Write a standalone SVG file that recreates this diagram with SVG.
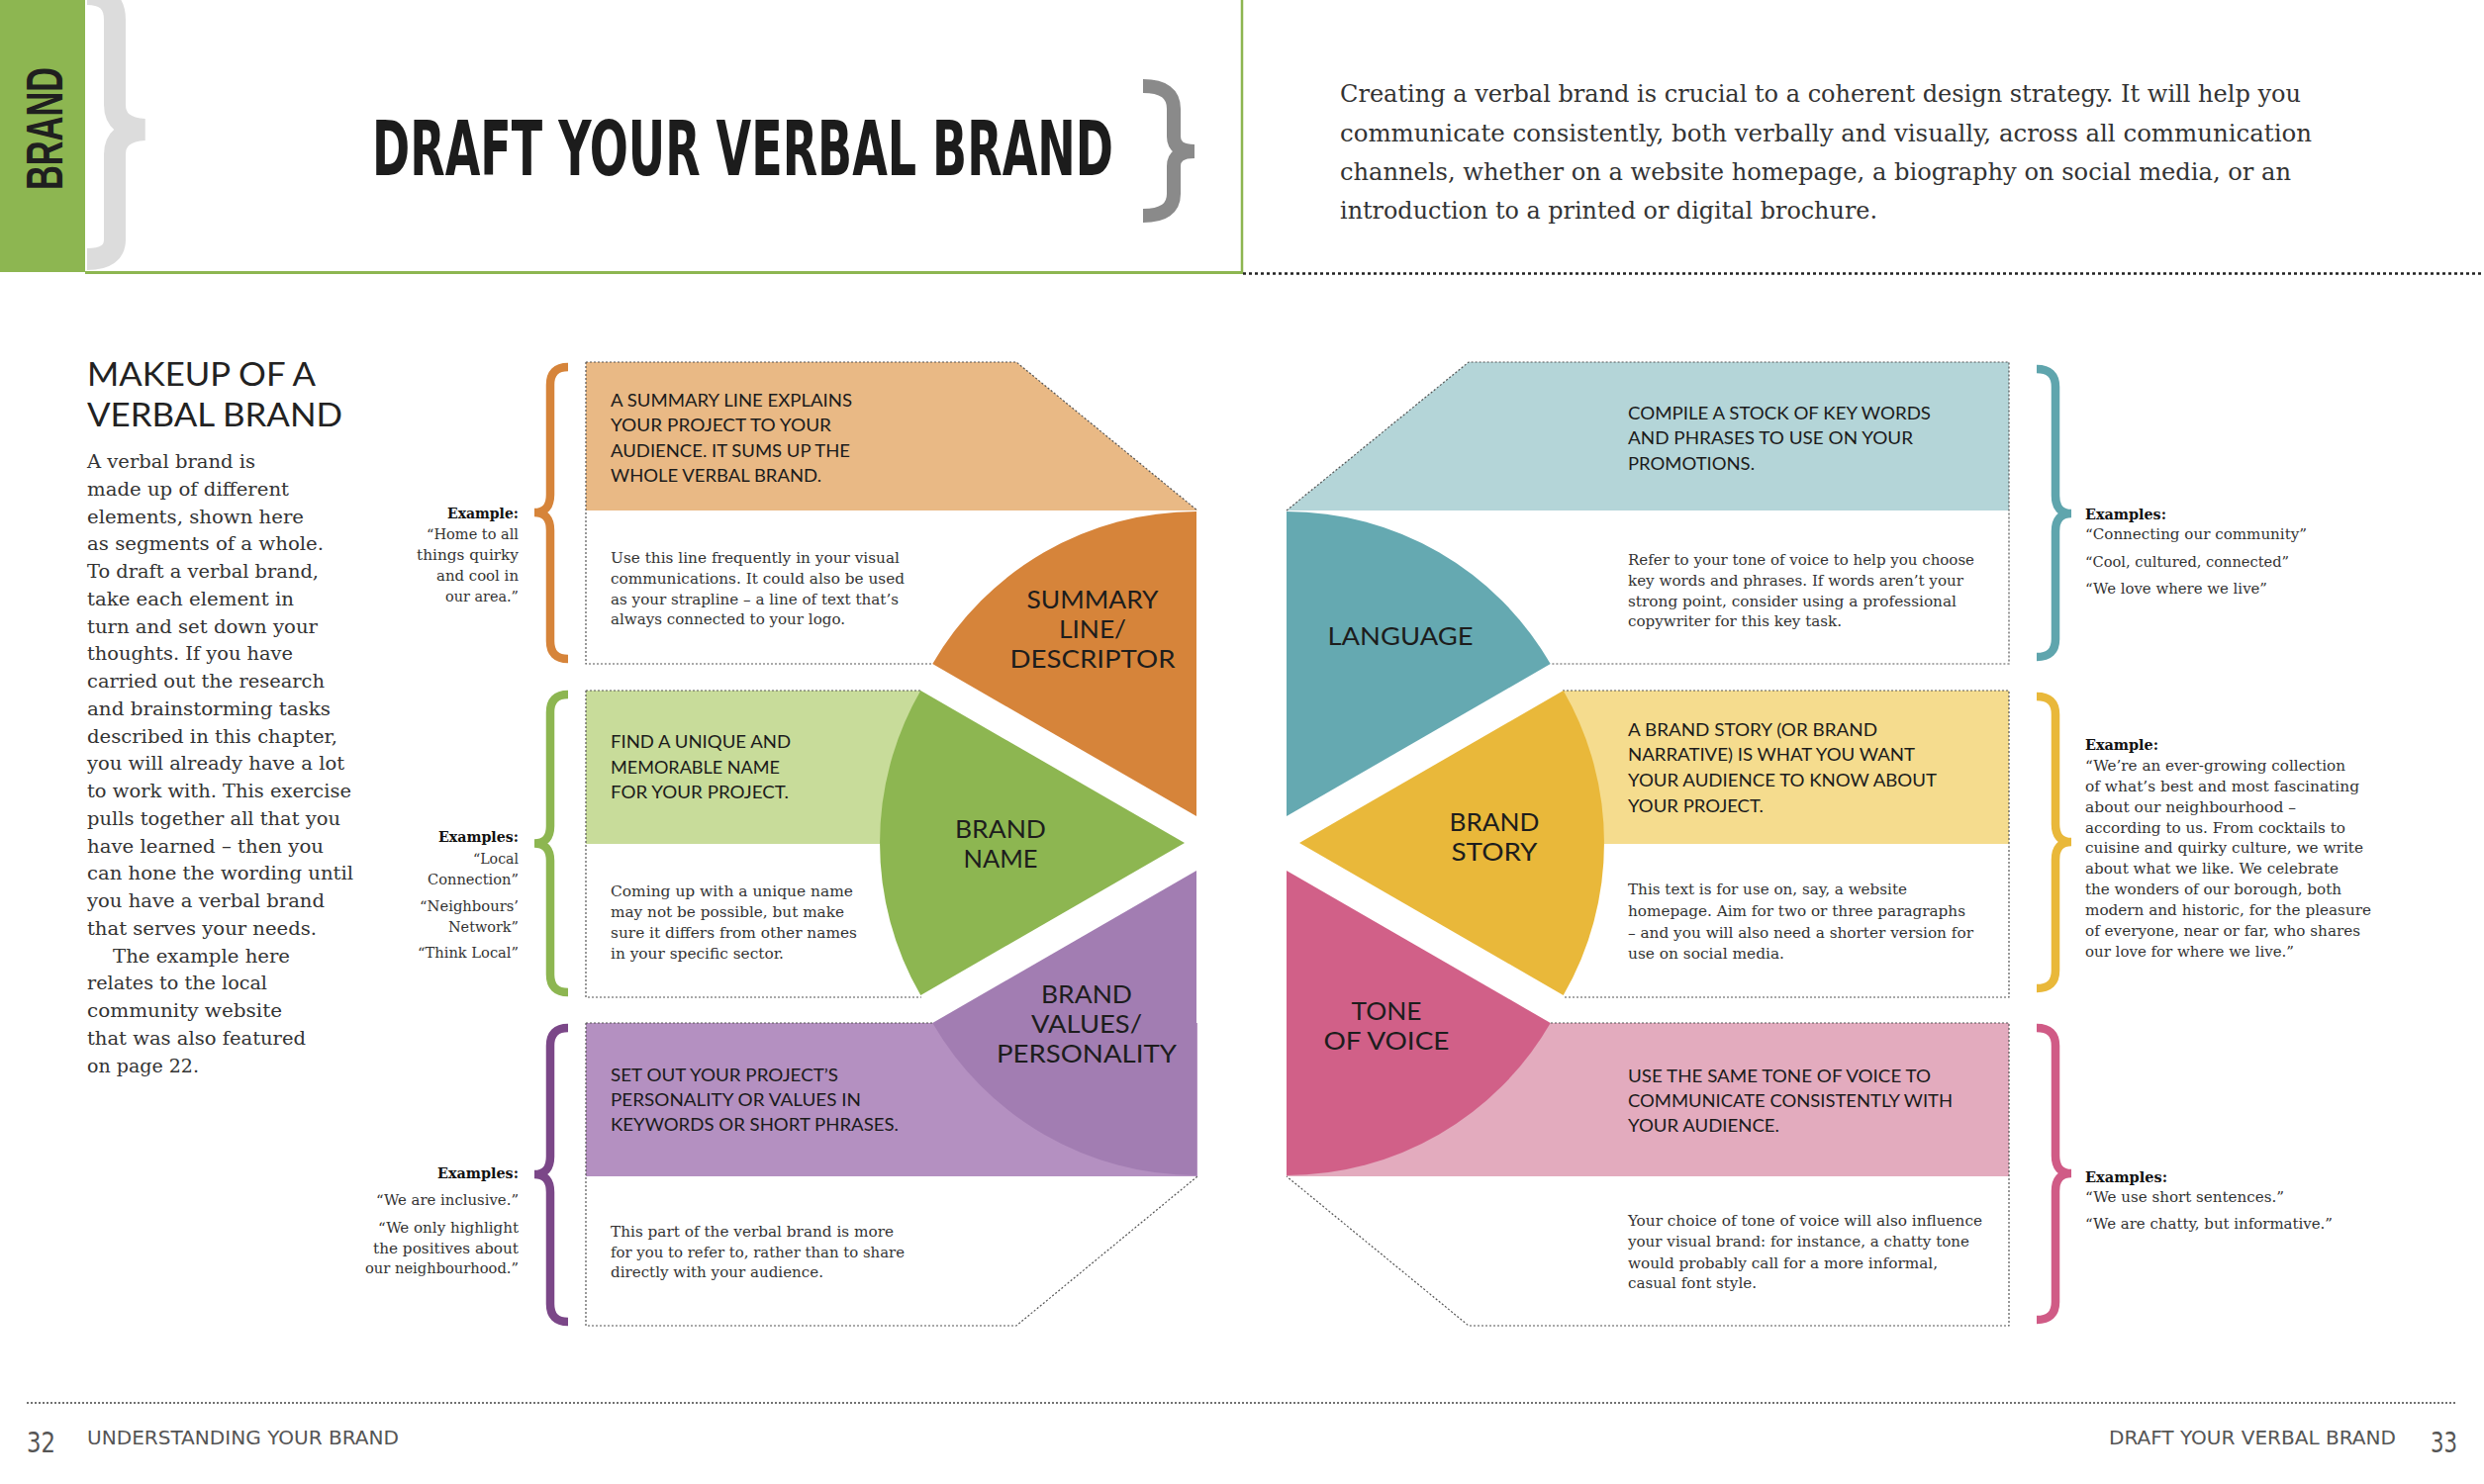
<svg xmlns="http://www.w3.org/2000/svg" width="2510" height="1500" viewBox="0 0 2510 1500">
<style>
.bg{fill:#fff}
.band{font-family:Lato,'Noto Sans',sans-serif;font-size:16.5px;fill:#1b1b1b}
.body{font-family:'DejaVu Serif Condensed','DejaVu Serif',serif;font-size:14.5px;fill:#333}
.lab{font-family:Lato,'Noto Sans',sans-serif;font-size:25.5px;fill:#1d1d1d;text-anchor:middle}
.ex{font-family:'DejaVu Serif Condensed','DejaVu Serif',serif;font-size:15px;fill:#333;text-anchor:end}
.rex{font-family:'DejaVu Serif','Liberation Serif',serif;font-size:14.5px;fill:#333}
.b{font-weight:bold;fill:#111}
.dot{fill:none;stroke:#555;stroke-width:1.2;stroke-dasharray:2 2}
.br{fill:none;stroke-width:8.5}
.intro{font-family:'DejaVu Serif Condensed','DejaVu Serif',serif;font-size:24px;fill:#333}
.para{font-family:'DejaVu Serif','Liberation Serif',serif;font-size:19px;fill:#333}
.foot{font-family:'DejaVu Sans Condensed','DejaVu Sans',sans-serif;fill:#555}
</style>
<rect class="bg" x="0" y="0" width="2510" height="1500"/>

<g id="header">
  <rect x="0" y="0" width="86" height="275" fill="#8db651"/>
  <text transform="translate(63,130) rotate(-90)" text-anchor="middle" font-family="'Liberation Sans',Arial,sans-serif" font-weight="bold" font-size="52" fill="#1f1f1f" textLength="124" lengthAdjust="spacingAndGlyphs">BRAND</text>
  <path d="M88,-6 Q116,-6 116,20 L116,106 Q116,129 146,131 Q116,133 116,156 L116,242 Q116,262 88,262" fill="none" stroke="#dcdcdc" stroke-width="22"/>
  <line x1="86" y1="275.5" x2="1256" y2="275.5" stroke="#8db651" stroke-width="3"/>
  <line x1="1255" y1="0" x2="1255" y2="276" stroke="#8db651" stroke-width="2.5"/>
  <text x="376" y="177" font-family="'DejaVu Sans Condensed','DejaVu Sans',sans-serif" font-weight="bold" font-size="76" fill="#1c1c1c" textLength="749" lengthAdjust="spacingAndGlyphs">DRAFT YOUR VERBAL BRAND</text>
  <path d="M1155,87 Q1186,87 1186,110 L1186,138 Q1186,153 1207,153 Q1186,153 1186,168 L1186,196 Q1186,218 1155,218" fill="none" stroke="#8a8a8a" stroke-width="14"/>
  <line x1="1256" y1="276.5" x2="2510" y2="276.5" stroke="#222" stroke-width="2.5" stroke-dasharray="3 3"/>
  <text class="intro" x="1354" y="103" textLength="971" lengthAdjust="spacingAndGlyphs">Creating a verbal brand is crucial to a coherent design strategy. It will help you</text>
  <text class="intro" x="1354" y="143" textLength="982" lengthAdjust="spacingAndGlyphs">communicate consistently, both verbally and visually, across all communication</text>
  <text class="intro" x="1354" y="182" textLength="961" lengthAdjust="spacingAndGlyphs">channels, whether on a website homepage, a biography on social media, or an</text>
  <text class="intro" x="1354" y="221" textLength="543" lengthAdjust="spacingAndGlyphs">introduction to a printed or digital brochure.</text>
</g>

<g id="intro-column">
  <text x="88" y="390" font-family="Lato,'Noto Sans',sans-serif" font-size="33" fill="#222" textLength="231" lengthAdjust="spacingAndGlyphs">MAKEUP OF A</text>
  <text x="88" y="431" font-family="Lato,'Noto Sans',sans-serif" font-size="33" fill="#222" textLength="258" lengthAdjust="spacingAndGlyphs">VERBAL BRAND</text>
  <text class="para" x="88" y="473" textLength="170" lengthAdjust="spacingAndGlyphs">A verbal brand is</text>
  <text class="para" x="88" y="500.75" textLength="204" lengthAdjust="spacingAndGlyphs">made up of different</text>
  <text class="para" x="88" y="528.5" textLength="219" lengthAdjust="spacingAndGlyphs">elements, shown here</text>
  <text class="para" x="88" y="556.25" textLength="239" lengthAdjust="spacingAndGlyphs">as segments of a whole.</text>
  <text class="para" x="88" y="584" textLength="234" lengthAdjust="spacingAndGlyphs">To draft a verbal brand,</text>
  <text class="para" x="88" y="611.75" textLength="209" lengthAdjust="spacingAndGlyphs">take each element in</text>
  <text class="para" x="88" y="639.5" textLength="233" lengthAdjust="spacingAndGlyphs">turn and set down your</text>
  <text class="para" x="88" y="667.25" textLength="208" lengthAdjust="spacingAndGlyphs">thoughts. If you have</text>
  <text class="para" x="88" y="695" textLength="240" lengthAdjust="spacingAndGlyphs">carried out the research</text>
  <text class="para" x="88" y="722.75" textLength="246" lengthAdjust="spacingAndGlyphs">and brainstorming tasks</text>
  <text class="para" x="88" y="750.5" textLength="253" lengthAdjust="spacingAndGlyphs">described in this chapter,</text>
  <text class="para" x="88" y="778.25" textLength="260" lengthAdjust="spacingAndGlyphs">you will already have a lot</text>
  <text class="para" x="88" y="806" textLength="267" lengthAdjust="spacingAndGlyphs">to work with. This exercise</text>
  <text class="para" x="88" y="833.75" textLength="256" lengthAdjust="spacingAndGlyphs">pulls together all that you</text>
  <text class="para" x="88" y="861.5" textLength="239" lengthAdjust="spacingAndGlyphs">have learned – then you</text>
  <text class="para" x="88" y="889.25" textLength="269" lengthAdjust="spacingAndGlyphs">can hone the wording until</text>
  <text class="para" x="88" y="917" textLength="240" lengthAdjust="spacingAndGlyphs">you have a verbal brand</text>
  <text class="para" x="88" y="944.75" textLength="232" lengthAdjust="spacingAndGlyphs">that serves your needs.</text>
  <text class="para" x="114" y="972.5" textLength="179" lengthAdjust="spacingAndGlyphs">The example here</text>
  <text class="para" x="88" y="1000.25" textLength="182" lengthAdjust="spacingAndGlyphs">relates to the local</text>
  <text class="para" x="88" y="1028" textLength="197" lengthAdjust="spacingAndGlyphs">community website</text>
  <text class="para" x="88" y="1055.75" textLength="221" lengthAdjust="spacingAndGlyphs">that was also featured</text>
  <text class="para" x="88" y="1083.5" textLength="113" lengthAdjust="spacingAndGlyphs">on page 22.</text>
</g>

<g id="summary-line">
  <polygon points="592,366 1027,366 1210,516 592,516" fill="#e9b985"/>
  <path d="M592,366 L1027,366 L1210,516 M592,366 L592,671 L943,671" class="dot"/>
  <path d="M1209,825 L1209,517 A308,308 0 0,0 942.3,671 Z" fill="#d6843a"/>
  <text class="lab" x="1104" y="615" textLength="133" lengthAdjust="spacingAndGlyphs">SUMMARY</text>
  <text class="lab" x="1104" y="645" textLength="68" lengthAdjust="spacingAndGlyphs">LINE/</text>
  <text class="lab" x="1104" y="675" textLength="167" lengthAdjust="spacingAndGlyphs">DESCRIPTOR</text>
  <text class="band" x="617" y="411" textLength="244" lengthAdjust="spacingAndGlyphs">A SUMMARY LINE EXPLAINS</text>
  <text class="band" x="617" y="436" textLength="223" lengthAdjust="spacingAndGlyphs">YOUR PROJECT TO YOUR</text>
  <text class="band" x="617" y="462" textLength="242" lengthAdjust="spacingAndGlyphs">AUDIENCE. IT SUMS UP THE</text>
  <text class="band" x="617" y="487" textLength="213" lengthAdjust="spacingAndGlyphs">WHOLE VERBAL BRAND.</text>
  <text class="body" x="617" y="569" textLength="292" lengthAdjust="spacingAndGlyphs">Use this line frequently in your visual</text>
  <text class="body" x="617" y="590" textLength="297" lengthAdjust="spacingAndGlyphs">communications. It could also be used</text>
  <text class="body" x="617" y="610.5" textLength="291" lengthAdjust="spacingAndGlyphs">as your strapline – a line of text that’s</text>
  <text class="body" x="617" y="631" textLength="237" lengthAdjust="spacingAndGlyphs">always connected to your logo.</text>
  <text class="ex b" x="524" y="524" font-size="16" textLength="72" lengthAdjust="spacingAndGlyphs">Example:</text>
  <text class="ex" x="524" y="545" textLength="93" lengthAdjust="spacingAndGlyphs">“Home to all</text>
  <text class="ex" x="524" y="566" textLength="103" lengthAdjust="spacingAndGlyphs">things quirky</text>
  <text class="ex" x="524" y="587" textLength="83" lengthAdjust="spacingAndGlyphs">and cool in</text>
  <text class="ex" x="524" y="608" textLength="74" lengthAdjust="spacingAndGlyphs">our area.”</text>
</g>

<g id="brand-name">
  <polygon points="592,698 931,698 889,853 592,853" fill="#c8dc9a"/>
  <path d="M592,698 L931,698 M592,698 L592,1008 L931,1008" class="dot"/>
  <path d="M1197,852 L930.3,698 A308,308 0 0,0 930.3,1006 Z" fill="#8db651"/>
  <text class="lab" x="1011" y="847" textLength="92" lengthAdjust="spacingAndGlyphs">BRAND</text>
  <text class="lab" x="1011" y="877" textLength="75" lengthAdjust="spacingAndGlyphs">NAME</text>
  <text class="band" x="617" y="756" textLength="182" lengthAdjust="spacingAndGlyphs">FIND A UNIQUE AND</text>
  <text class="band" x="617" y="782" textLength="171" lengthAdjust="spacingAndGlyphs">MEMORABLE NAME</text>
  <text class="band" x="617" y="807" textLength="180" lengthAdjust="spacingAndGlyphs">FOR YOUR PROJECT.</text>
  <text class="body" x="617" y="906" textLength="245" lengthAdjust="spacingAndGlyphs">Coming up with a unique name</text>
  <text class="body" x="617" y="927" textLength="236" lengthAdjust="spacingAndGlyphs">may not be possible, but make</text>
  <text class="body" x="617" y="948" textLength="249" lengthAdjust="spacingAndGlyphs">sure it differs from other names</text>
  <text class="body" x="617" y="969" textLength="175" lengthAdjust="spacingAndGlyphs">in your specific sector.</text>
  <text class="ex b" x="524" y="851" font-size="16" textLength="81" lengthAdjust="spacingAndGlyphs">Examples:</text>
  <text class="ex" x="524" y="873" textLength="46" lengthAdjust="spacingAndGlyphs">“Local</text>
  <text class="ex" x="524" y="894" textLength="92" lengthAdjust="spacingAndGlyphs">Connection”</text>
  <text class="ex" x="524" y="921" textLength="100" lengthAdjust="spacingAndGlyphs">“Neighbours’</text>
  <text class="ex" x="524" y="942" textLength="71" lengthAdjust="spacingAndGlyphs">Network”</text>
  <text class="ex" x="524" y="968" textLength="102" lengthAdjust="spacingAndGlyphs">“Think Local”</text>
</g>

<g id="brand-values">
  <rect x="592" y="1034" width="618" height="155" fill="#b490c1"/>
  <path d="M592,1034 L943,1034 M592,1034 L592,1340 L1027,1340 L1210,1189" class="dot"/>
  <path d="M1209,880 L942.3,1034 A308,308 0 0,0 1209,1188 Z" fill="#a27db2"/>
  <text class="lab" x="1098" y="1014" textLength="92" lengthAdjust="spacingAndGlyphs">BRAND</text>
  <text class="lab" x="1098" y="1044" textLength="112" lengthAdjust="spacingAndGlyphs">VALUES/</text>
  <text class="lab" x="1098" y="1074" textLength="182" lengthAdjust="spacingAndGlyphs">PERSONALITY</text>
  <text class="band" x="617" y="1093" textLength="230" lengthAdjust="spacingAndGlyphs">SET OUT YOUR PROJECT’S</text>
  <text class="band" x="617" y="1118" textLength="253" lengthAdjust="spacingAndGlyphs">PERSONALITY OR VALUES IN</text>
  <text class="band" x="617" y="1143" textLength="291" lengthAdjust="spacingAndGlyphs">KEYWORDS OR SHORT PHRASES.</text>
  <text class="body" x="617" y="1250" textLength="286" lengthAdjust="spacingAndGlyphs">This part of the verbal brand is more</text>
  <text class="body" x="617" y="1271" textLength="297" lengthAdjust="spacingAndGlyphs">for you to refer to, rather than to share</text>
  <text class="body" x="617" y="1291" textLength="215" lengthAdjust="spacingAndGlyphs">directly with your audience.</text>
  <text class="ex b" x="524" y="1191" font-size="16" textLength="82" lengthAdjust="spacingAndGlyphs">Examples:</text>
  <text class="ex" x="524" y="1218" textLength="144" lengthAdjust="spacingAndGlyphs">“We are inclusive.”</text>
  <text class="ex" x="524" y="1246" textLength="142" lengthAdjust="spacingAndGlyphs">“We only highlight</text>
  <text class="ex" x="524" y="1267" textLength="147" lengthAdjust="spacingAndGlyphs">the positives about</text>
  <text class="ex" x="524" y="1287" textLength="155" lengthAdjust="spacingAndGlyphs">our neighbourhood.”</text>
</g>

<g id="language">
  <polygon points="1300,516 1484,366 2030,366 2030,516" fill="#b4d5d8"/>
  <path d="M1300,516 L1484,366 L2030,366 L2030,671 L1567,671" class="dot"/>
  <path d="M1300,825 L1300,517 A308,308 0 0,1 1566.7,671 Z" fill="#65a9b1"/>
  <text class="lab" x="1415" y="652" textLength="147" lengthAdjust="spacingAndGlyphs">LANGUAGE</text>
  <text class="band" x="1645" y="424" textLength="306" lengthAdjust="spacingAndGlyphs">COMPILE A STOCK OF KEY WORDS</text>
  <text class="band" x="1645" y="449" textLength="288" lengthAdjust="spacingAndGlyphs">AND PHRASES TO USE ON YOUR</text>
  <text class="band" x="1645" y="475" textLength="128" lengthAdjust="spacingAndGlyphs">PROMOTIONS.</text>
  <text class="body" x="1645" y="571" textLength="350" lengthAdjust="spacingAndGlyphs">Refer to your tone of voice to help you choose</text>
  <text class="body" x="1645" y="592" textLength="339" lengthAdjust="spacingAndGlyphs">key words and phrases. If words aren’t your</text>
  <text class="body" x="1645" y="613" textLength="332" lengthAdjust="spacingAndGlyphs">strong point, consider using a professional</text>
  <text class="body" x="1645" y="633" textLength="216" lengthAdjust="spacingAndGlyphs">copywriter for this key task.</text>
  <text class="rex b" x="2107" y="525" textLength="82" lengthAdjust="spacingAndGlyphs">Examples:</text>
  <text class="rex" x="2107" y="545" textLength="224" lengthAdjust="spacingAndGlyphs">“Connecting our community”</text>
  <text class="rex" x="2107" y="573" textLength="206" lengthAdjust="spacingAndGlyphs">“Cool, cultured, connected”</text>
  <text class="rex" x="2107" y="600" textLength="184" lengthAdjust="spacingAndGlyphs">“We love where we live”</text>
</g>

<g id="brand-story">
  <polygon points="1579,698 2030,698 2030,853 1621,853" fill="#f5dc8e"/>
  <path d="M1579,698 L2030,698 L2030,1008 L1579,1008" class="dot"/>
  <path d="M1313,852 L1579.7,698 A308,308 0 0,1 1579.7,1006 Z" fill="#e9b83a"/>
  <text class="lab" x="1510" y="840" textLength="91" lengthAdjust="spacingAndGlyphs">BRAND</text>
  <text class="lab" x="1510" y="870" textLength="87" lengthAdjust="spacingAndGlyphs">STORY</text>
  <text class="band" x="1645" y="744" textLength="252" lengthAdjust="spacingAndGlyphs">A BRAND STORY (OR BRAND</text>
  <text class="band" x="1645" y="769" textLength="290" lengthAdjust="spacingAndGlyphs">NARRATIVE) IS WHAT YOU WANT</text>
  <text class="band" x="1645" y="795" textLength="312" lengthAdjust="spacingAndGlyphs">YOUR AUDIENCE TO KNOW ABOUT</text>
  <text class="band" x="1645" y="821" textLength="137" lengthAdjust="spacingAndGlyphs">YOUR PROJECT.</text>
  <text class="body" x="1645" y="904" textLength="282" lengthAdjust="spacingAndGlyphs">This text is for use on, say, a website</text>
  <text class="body" x="1645" y="926" textLength="341" lengthAdjust="spacingAndGlyphs">homepage. Aim for two or three paragraphs</text>
  <text class="body" x="1645" y="948" textLength="349" lengthAdjust="spacingAndGlyphs">– and you will also need a shorter version for</text>
  <text class="body" x="1645" y="969" textLength="158" lengthAdjust="spacingAndGlyphs">use on social media.</text>
  <text class="rex b" x="2107" y="758" textLength="74" lengthAdjust="spacingAndGlyphs">Example:</text>
  <text class="rex" x="2107" y="779" textLength="263" lengthAdjust="spacingAndGlyphs">“We’re an ever-growing collection</text>
  <text class="rex" x="2107" y="799.5" textLength="277" lengthAdjust="spacingAndGlyphs">of what’s best and most fascinating</text>
  <text class="rex" x="2107" y="820.5" textLength="213" lengthAdjust="spacingAndGlyphs">about our neighbourhood –</text>
  <text class="rex" x="2107" y="841.5" textLength="263" lengthAdjust="spacingAndGlyphs">according to us. From cocktails to</text>
  <text class="rex" x="2107" y="862" textLength="281" lengthAdjust="spacingAndGlyphs">cuisine and quirky culture, we write</text>
  <text class="rex" x="2107" y="883" textLength="256" lengthAdjust="spacingAndGlyphs">about what we like. We celebrate</text>
  <text class="rex" x="2107" y="904" textLength="259" lengthAdjust="spacingAndGlyphs">the wonders of our borough, both</text>
  <text class="rex" x="2107" y="925" textLength="289" lengthAdjust="spacingAndGlyphs">modern and historic, for the pleasure</text>
  <text class="rex" x="2107" y="946" textLength="278" lengthAdjust="spacingAndGlyphs">of everyone, near or far, who shares</text>
  <text class="rex" x="2107" y="966.5" textLength="211" lengthAdjust="spacingAndGlyphs">our love for where we live.”</text>
</g>

<g id="tone-of-voice">
  <rect x="1300" y="1034" width="730" height="155" fill="#e3abbe"/>
  <path d="M1567,1034 L2030,1034 L2030,1340 L1484,1340 L1300,1189" class="dot"/>
  <path d="M1300,880 L1566.7,1034 A308,308 0 0,1 1300,1188 Z" fill="#d16088"/>
  <text class="lab" x="1401" y="1031" textLength="71" lengthAdjust="spacingAndGlyphs">TONE</text>
  <text class="lab" x="1401" y="1061" textLength="127" lengthAdjust="spacingAndGlyphs">OF VOICE</text>
  <text class="band" x="1645" y="1094" textLength="306" lengthAdjust="spacingAndGlyphs">USE THE SAME TONE OF VOICE TO</text>
  <text class="band" x="1645" y="1119" textLength="328" lengthAdjust="spacingAndGlyphs">COMMUNICATE CONSISTENTLY WITH</text>
  <text class="band" x="1645" y="1144" textLength="153" lengthAdjust="spacingAndGlyphs">YOUR AUDIENCE.</text>
  <text class="body" x="1645" y="1239" textLength="358" lengthAdjust="spacingAndGlyphs">Your choice of tone of voice will also influence</text>
  <text class="body" x="1645" y="1260" textLength="345" lengthAdjust="spacingAndGlyphs">your visual brand: for instance, a chatty tone</text>
  <text class="body" x="1645" y="1282" textLength="313" lengthAdjust="spacingAndGlyphs">would probably call for a more informal,</text>
  <text class="body" x="1645" y="1302" textLength="130" lengthAdjust="spacingAndGlyphs">casual font style.</text>
  <text class="rex b" x="2107" y="1195" textLength="83" lengthAdjust="spacingAndGlyphs">Examples:</text>
  <text class="rex" x="2107" y="1215" textLength="201" lengthAdjust="spacingAndGlyphs">“We use short sentences.”</text>
  <text class="rex" x="2107" y="1242" textLength="250" lengthAdjust="spacingAndGlyphs">“We are chatty, but informative.”</text>
</g>

<g id="connectors">
  <path class="br" stroke="#d6843a" d="M574,371 Q556,371 556,389 L556,500 Q556,518 540,518 Q556,518 556,536 L556,648 Q556,666 574,666"/>
  <path class="br" stroke="#8db651" d="M574,702 Q556,702 556,720 L556,835 Q556,852.5 540,852.5 Q556,852.5 556,870 L556,985 Q556,1003 574,1003"/>
  <path class="br" stroke="#7b4788" d="M574,1039 Q556,1039 556,1057 L556,1169 Q556,1187 540,1187 Q556,1187 556,1205 L556,1318 Q556,1336 574,1336"/>
  <path class="br" stroke="#5fa5ad" d="M2058,373 Q2077,373 2077,391 L2077,501 Q2077,519 2093,519 Q2077,519 2077,537 L2077,646 Q2077,664 2058,664"/>
  <path class="br" stroke="#e9b83a" d="M2058,704 Q2077,704 2077,722 L2077,833 Q2077,851 2093,851 Q2077,851 2077,869 L2077,981 Q2077,999 2058,999"/>
  <path class="br" stroke="#d05b86" d="M2058,1039 Q2077,1039 2077,1057 L2077,1168 Q2077,1186 2093,1186 Q2077,1186 2077,1204 L2077,1316 Q2077,1334 2058,1334"/>
</g>

<g id="footer">
  <line x1="27" y1="1418" x2="2481" y2="1418" stroke="#444" stroke-width="1.5" stroke-dasharray="2 2"/>
  <text class="foot" x="27" y="1468" font-size="29" textLength="29" lengthAdjust="spacingAndGlyphs">32</text>
  <text class="foot" x="88" y="1460" font-size="20" textLength="315" lengthAdjust="spacingAndGlyphs">UNDERSTANDING YOUR BRAND</text>
  <text class="foot" x="2131" y="1460" font-size="20" textLength="290" lengthAdjust="spacingAndGlyphs">DRAFT YOUR VERBAL BRAND</text>
  <text class="foot" x="2456" y="1468" font-size="29" textLength="27" lengthAdjust="spacingAndGlyphs">33</text>
</g>
</svg>
